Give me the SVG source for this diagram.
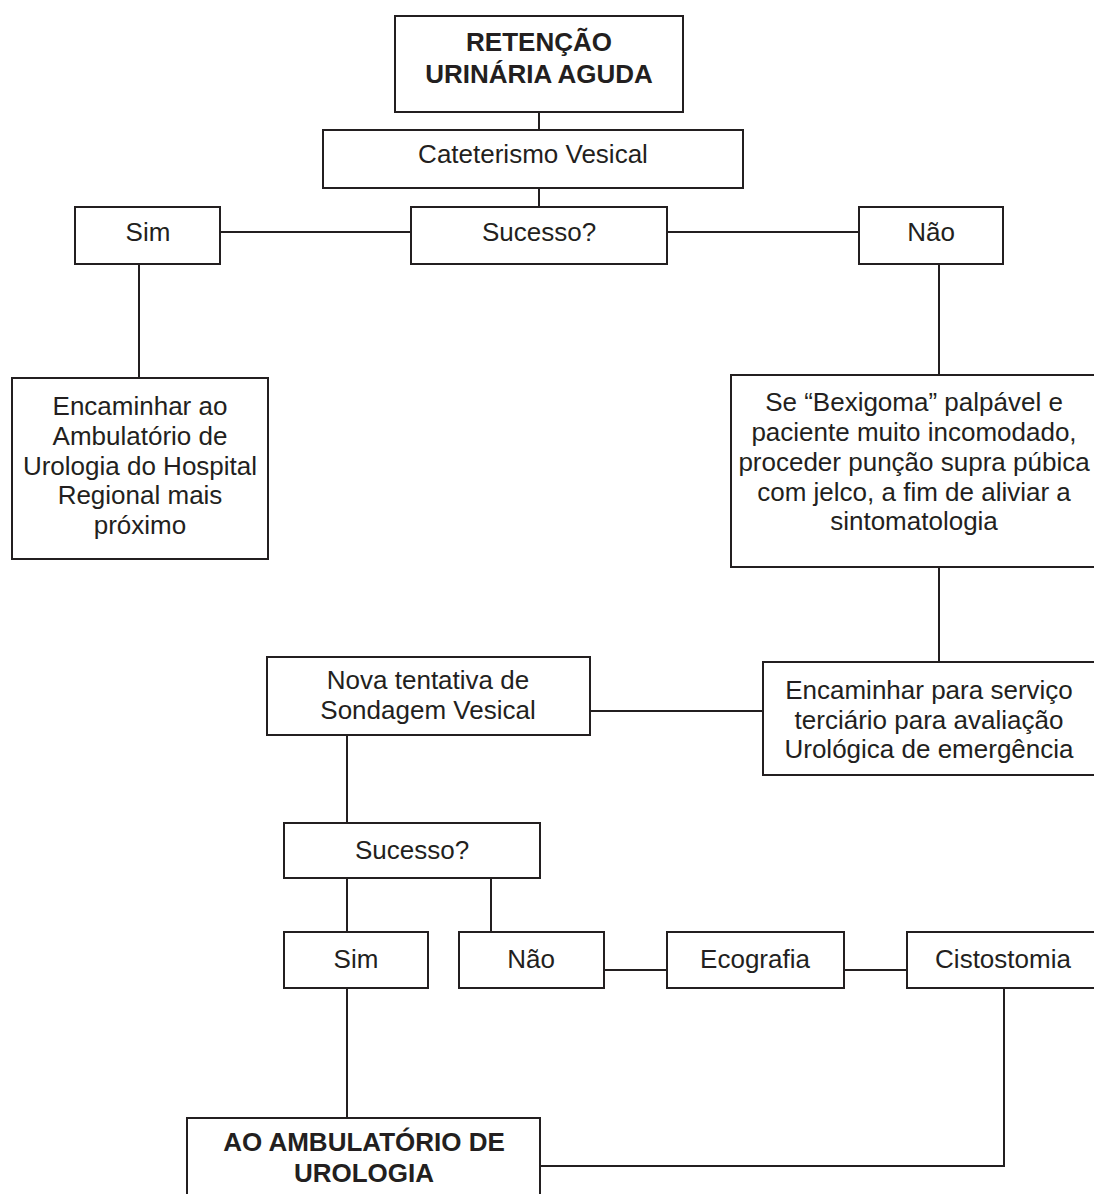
<svg xmlns="http://www.w3.org/2000/svg" width="1094" height="1194" viewBox="0 0 1094 1194">
<style>
.b{fill:#fff;stroke:#231f20;stroke-width:2}
.c{fill:none;stroke:#231f20;stroke-width:2}
text{font-family:"Liberation Sans",Arial,sans-serif;font-size:26px;fill:#231f20;text-anchor:middle}
.t{font-weight:bold}
</style>
<rect width="1094" height="1194" fill="#fff"/>
<g id="connectors">
<path class="c" d="M539 112V130M539 188V207M220 232H411M667 232H859M139 264V378M939 264V375M939 567V662M590 711H763M347 735V823M347 878V932M491 878V932M604 970H667M844 970H907M347 988V1118M1004 988V1166H540"/>
</g>
<g id="n1"><rect class="b" x="395" y="16" width="288" height="96"/><text class="t" x="539" y="51">RETENÇÃO</text><text class="t" x="539" y="83">URINÁRIA AGUDA</text></g>
<g id="n2"><rect class="b" x="323" y="130" width="420" height="58"/><text x="533" y="163">Cateterismo Vesical</text></g>
<g id="n3"><rect class="b" x="411" y="207" width="256" height="57"/><text x="539" y="241">Sucesso?</text></g>
<g id="n4"><rect class="b" x="75" y="207" width="145" height="57"/><text x="148" y="241">Sim</text></g>
<g id="n5"><rect class="b" x="859" y="207" width="144" height="57"/><text x="931" y="241">Não</text></g>
<g id="n6"><rect class="b" x="12" y="378" width="256" height="181"/>
<text x="140" y="415">Encaminhar ao</text><text x="140" y="445">Ambulatório de</text><text x="140" y="475">Urologia do Hospital</text><text x="140" y="504">Regional mais</text><text x="140" y="534">próximo</text></g>
<g id="n7"><rect class="b" x="731" y="375" width="370" height="192"/>
<text x="914" y="411">Se “Bexigoma” palpável e</text><text x="914" y="441">paciente muito incomodado,</text><text x="914" y="471">proceder punção supra púbica</text><text x="914" y="501">com jelco, a fim de aliviar a</text><text x="914" y="530">sintomatologia</text></g>
<g id="n8"><rect class="b" x="763" y="662" width="340" height="113"/>
<text x="929" y="699">Encaminhar para serviço</text><text x="929" y="729">terciário para avaliação</text><text x="929" y="758">Urológica de emergência</text></g>
<g id="n9"><rect class="b" x="267" y="657" width="323" height="78"/>
<text x="428" y="689">Nova tentativa de</text><text x="428" y="719">Sondagem Vesical</text></g>
<g id="n10"><rect class="b" x="284" y="823" width="256" height="55"/><text x="412" y="859">Sucesso?</text></g>
<g id="n11"><rect class="b" x="284" y="932" width="144" height="56"/><text x="356" y="968">Sim</text></g>
<g id="n12"><rect class="b" x="459" y="932" width="145" height="56"/><text x="531" y="968">Não</text></g>
<g id="n13"><rect class="b" x="667" y="932" width="177" height="56"/><text x="755" y="968">Ecografia</text></g>
<g id="n14"><rect class="b" x="907" y="932" width="200" height="56"/><text x="1003" y="968">Cistostomia</text></g>
<g id="n15"><rect class="b" x="187" y="1118" width="353" height="90"/><text class="t" x="364" y="1151">AO AMBULATÓRIO DE</text><text class="t" x="364" y="1182">UROLOGIA</text></g>
</svg>
